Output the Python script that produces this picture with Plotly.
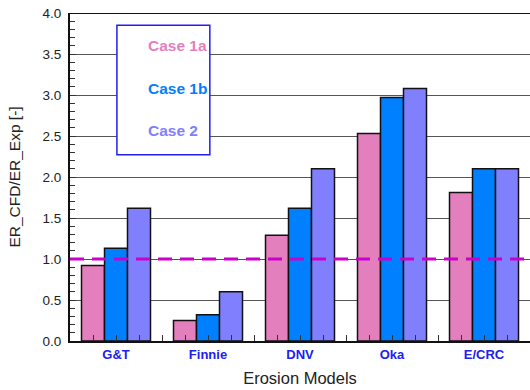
import plotly.graph_objects as go

models = ["G&T", "Finnie", "DNV", "Oka", "E/CRC"]
series_names = ["Case 1a", "Case 1b", "Case 2"]
case_1a = [0.92, 0.25, 1.29, 2.53, 1.81]
case_1b = [1.13, 0.32, 1.62, 2.97, 2.10]
case_2 = [1.62, 0.60, 2.10, 3.08, 2.10]
reference_value = 1.0
y_ticks = [0.0, 0.5, 1.0, 1.5, 2.0, 2.5, 3.0, 3.5, 4.0]

colors = ["#E47FBE", "#0080FF", "#8080FF"]
positions = list(range(len(models)))

fig = go.Figure()
for name, vals, col in zip(series_names, [case_1a, case_1b, case_2], colors):
    fig.add_trace(go.Bar(x=positions, y=vals, name=name, marker=dict(color=col, line=dict(color="#111111", width=1.5))))

fig.add_shape(type="line", xref="paper", x0=0, x1=1, yref="y", y0=reference_value, y1=reference_value,
              line=dict(color="#CC00CC", width=3, dash="14px,8px"), layer="above")

# legend box
fig.add_shape(type="rect", xref="x", yref="y", x0=0.01, x1=1.02, y0=2.27, y1=3.85,
              line=dict(color="#2020F0", width=1.5), fillcolor="white", layer="above")
for name, col, yy in zip(series_names, colors, [3.60, 3.085, 2.57]):
    fig.add_annotation(x=0.325, y=yy, xref="x", yref="y", text="<b>%s</b>" % name, showarrow=False,
                       xanchor="left", font=dict(color=col, size=15.5, family="Liberation Sans, Arial"))

fig.update_layout(
    width=530, height=390,
    margin=dict(l=70, r=0, t=13, b=49, autoexpand=False),
    plot_bgcolor="white", paper_bgcolor="white",
    barmode="group", bargap=0.25, bargroupgap=0,
    showlegend=False,
    font=dict(family="Liberation Sans, Arial", size=13, color="#222222"),
)
fig.update_xaxes(
    automargin=False,
    range=[-0.5, len(models) - 0.5],
    tickvals=positions, ticktext=["<b>%s</b>" % m for m in models],
    tickfont=dict(color="#2020F0", size=13),
    ticks="inside", ticklen=6, tickcolor="#333333",
    minor=dict(dtick=0.25, tick0=-0.5, ticks="inside", ticklen=6, tickcolor="#333333"),
    showline=True, linecolor="#111111", linewidth=2,
    showgrid=False, zeroline=False,
    title=dict(text="Erosion Models", font=dict(size=16.5, color="#222222"), standoff=12),
)
fig.update_yaxes(
    automargin=False,
    range=[0, 4.0], tickvals=y_ticks, ticktext=["%.1f" % v for v in y_ticks],
    ticks="inside", ticklen=6, tickcolor="#333333", ticklabelstandoff=4,
    tickfont=dict(size=13.5),
    minor=dict(dtick=0.1, ticks="inside", ticklen=5, tickcolor="#333333", showgrid=False),
    showline=True, linecolor="#111111", linewidth=2,
    showgrid=True, gridcolor="#555555", gridwidth=1, zeroline=False,
    title=dict(text="ER_CFD/ER_Exp [-]", font=dict(size=15.5, color="#222222"), standoff=18),
)
# top border line at 4.0
fig.add_shape(type="line", xref="paper", x0=0, x1=1, yref="y", y0=4.0, y1=4.0,
              line=dict(color="#111111", width=2), layer="above")

fig.write_html("out.html", config={"displayModeBar": False},
               post_script="document.body.style.margin='0px';document.body.style.overflow='hidden';")
